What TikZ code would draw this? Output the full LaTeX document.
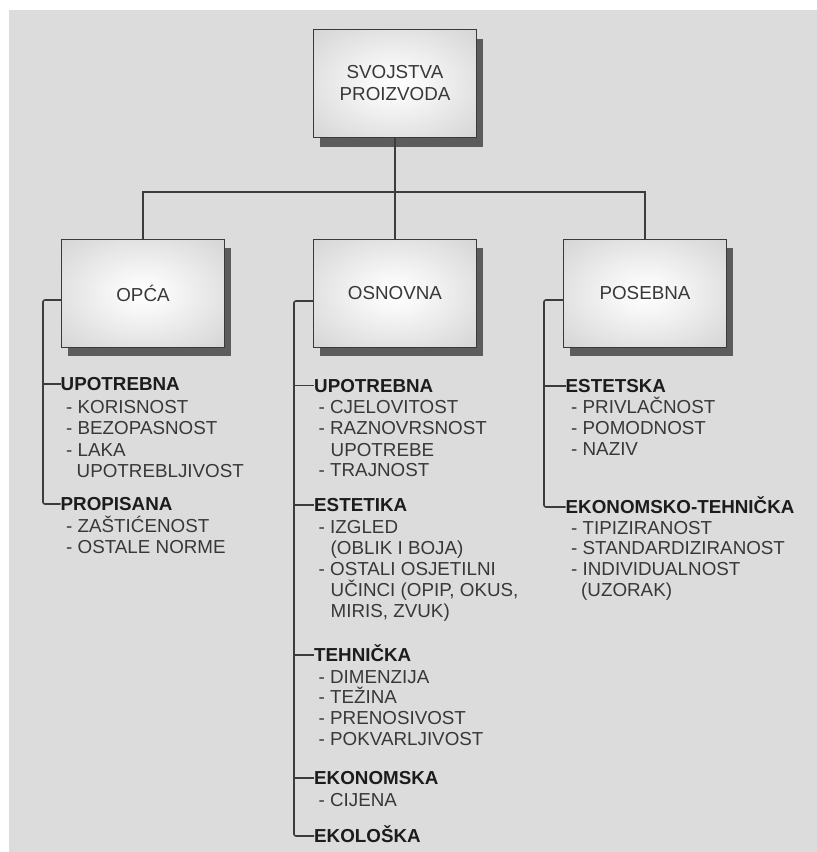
\documentclass[tikz,border=0pt]{standalone}
\usepackage{fontspec}
\setmainfont{Liberation Sans}
\usetikzlibrary{shadows}
\definecolor{bg}{HTML}{DCDCDC}
\definecolor{boxmid}{HTML}{C4C4C4}
\definecolor{boxedge}{HTML}{A4A4A4}
\definecolor{boxline}{HTML}{3A3A3A}
\definecolor{shcol}{HTML}{5C5C5C}
\definecolor{linecol}{HTML}{3C3C3C}
\definecolor{hdcol}{HTML}{1C1C1C}
\definecolor{itcol}{HTML}{383838}
\pgfdeclareradialshading{boxshade}{\pgfpoint{0bp}{0bp}}{%
  color(0bp)=(white); color(8bp)=(white!97!black); color(30bp)=(boxmid!60!white);
  color(50bp)=(boxmid); color(72bp)=(boxedge)}
\newcommand\headnode[4]{\node[hdst] (#1) at (#2,#3) {#4};}
\newcommand\itemnode[4]{\node[itst] (#1) at (#2,#3) {#4};}
\begin{document}
\begin{tikzpicture}[x=1pt,y=-1pt,
  box/.style={draw=boxline, line width=1pt, minimum width=163pt, minimum height=108pt,
    inner sep=0pt, shading=boxshade, text=itcol, align=center,
    font=\fontsize{18.8}{22}\selectfont,
    drop shadow={shadow xshift=6pt, shadow yshift=-9pt, opacity=1, fill=shcol}},
  conn/.style={draw=linecol, line width=1.3pt},
  side/.style={draw=linecol, line width=1.6pt, rounded corners=2pt},
  hdst/.style={anchor=west, inner sep=0pt, text height=13.4pt, text depth=0pt,
    font=\fontsize{18.8}{22}\selectfont\bfseries, text=hdcol},
  itst/.style={anchor=west, inner sep=0pt, text height=13.4pt, text depth=0pt,
    font=\fontsize{18.8}{22}\selectfont, text=itcol}]
\useasboundingbox (0,0) rectangle (817,852);
\fill[white] (0,0) rectangle (817,852);
\fill[bg] (9,10) rectangle (817,852);

% boxes
\node[box] (top) at (395,83.5) {SVOJSTVA\\PROIZVODA};
\node[box] (opca) at (143,293) {OPĆA};
\node[box] (osn) at (395,293) {OSNOVNA};
\node[box] (pos) at (645,293) {POSEBNA};

% tree connectors
\coordinate (hj) at (395,192);
\draw[conn] (top.south) -- (hj);
\draw[conn] (opca.north) |- (hj) -| (pos.north);
\draw[conn] (hj) -- (osn.north);

% OPCA column
\headnode{oh1}{60.5}{384}{UPOTREBNA}
\itemnode{oi1}{66}{406.5}{- KORISNOST}
\itemnode{oi2}{66}{428}{- BEZOPASNOST}
\itemnode{oi3}{66}{449.5}{- LAKA}
\itemnode{oi4}{76.5}{470.5}{UPOTREBLJIVOST}
\headnode{oh2}{60.5}{504}{PROPISANA}
\itemnode{oi5}{66}{525.5}{- ZAŠTIĆENOST}
\itemnode{oi6}{66}{547}{- OSTALE NORME}
\coordinate (oa) at (43,300);
\draw[side] (opca.west |- oa) -- (oa) |- (oh2.west);
\draw[side] (oa |- oh1.west) -- (oh1.west);

% OSNOVNA column
\headnode{nh1}{314}{385.5}{UPOTREBNA}
\itemnode{ni1}{318.5}{406.5}{- CJELOVITOST}
\itemnode{ni2}{318.5}{428}{- RAZNOVRSNOST}
\itemnode{ni3}{330.5}{449.5}{UPOTREBE}
\itemnode{ni4}{318.5}{470}{- TRAJNOST}
\headnode{nh2}{314}{505}{ESTETIKA}
\itemnode{ni5}{318.5}{526.5}{- IZGLED}
\itemnode{ni6}{330.5}{548}{(OBLIK I BOJA)}
\itemnode{ni7}{318.5}{568.5}{- OSTALI OSJETILNI}
\itemnode{ni8}{330.5}{590}{UČINCI (OPIP, OKUS,}
\itemnode{ni9}{330.5}{610.5}{MIRIS, ZVUK)}
\headnode{nh3}{314}{655}{TEHNIČKA}
\itemnode{ni10}{318.5}{676.5}{- DIMENZIJA}
\itemnode{ni11}{318.5}{697}{- TEŽINA}
\itemnode{ni12}{318.5}{718}{- PRENOSIVOST}
\itemnode{ni13}{318.5}{738.5}{- POKVARLJIVOST}
\headnode{nh4}{314}{778}{EKONOMSKA}
\itemnode{ni14}{318.5}{800}{- CIJENA}
\headnode{nh5}{314}{836}{EKOLOŠKA}
\coordinate (na) at (294,301);
\draw[side] (osn.west |- na) -- (na) |- (nh5.west);
\draw[side] (na |- nh1.west) -- (nh1.west);
\draw[side] (na |- nh2.west) -- (nh2.west);
\draw[side] (na |- nh3.west) -- (nh3.west);
\draw[side] (na |- nh4.west) -- (nh4.west);

% POSEBNA column
\headnode{ph1}{565.5}{386}{ESTETSKA}
\itemnode{pi1}{571}{407}{- PRIVLAČNOST}
\itemnode{pi2}{571}{428}{- POMODNOST}
\itemnode{pi3}{571}{448.5}{- NAZIV}
\headnode{ph2}{565.5}{507}{EKONOMSKO-TEHNIČKA}
\itemnode{pi4}{571}{527.5}{- TIPIZIRANOST}
\itemnode{pi5}{571}{548}{- STANDARDIZIRANOST}
\itemnode{pi6}{571}{569}{- INDIVIDUALNOST}
\itemnode{pi7}{581}{590}{(UZORAK)}
\coordinate (pa) at (544,300);
\draw[side] (pos.west |- pa) -- (pa) |- (ph2.west);
\draw[side] (pa |- ph1.west) -- (ph1.west);
\end{tikzpicture}
\end{document}
